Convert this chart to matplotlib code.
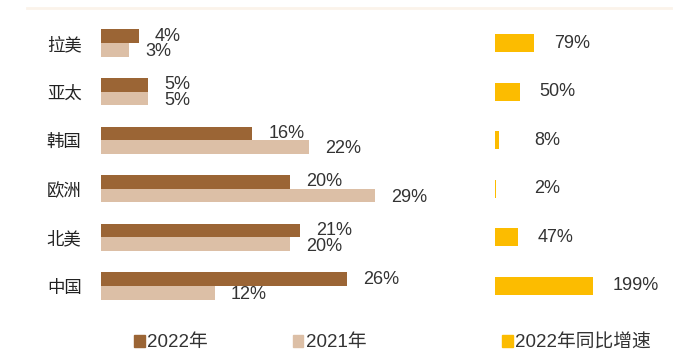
import matplotlib.pyplot as plt
from matplotlib.patches import Patch

plt.rcParams['font.family'] = ['Liberation Sans', 'Noto Sans CJK SC', 'DejaVu Sans']

regions = ['拉美', '亚太', '韩国', '欧洲', '北美', '中国']
share_2022 = [4, 5, 16, 20, 21, 26]
share_2021 = [3, 5, 22, 29, 20, 12]
growth_2022 = [79, 50, 8, 2, 47, 199]

c_2022 = '#9b6535'
c_2021 = '#dcbfa6'
c_growth = '#fcbc00'
txt = '#333333'

W, H = 685, 354
fig = plt.figure(figsize=(W / 100, H / 100), dpi=100)

# both panels share the same row layout: 48.6 px per region, first row centred at y=43
row_px = 48.6
top_px = 43 - row_px / 2
ax_h = row_px * len(regions)
ax_bottom = (H - top_px - ax_h) / H

# left panel: market share, 9.46 px per percent
ax = fig.add_axes([101 / W, ax_bottom, 331 / W, ax_h / H])
ax.set_xlim(0, 331 / 9.46)
ax.set_ylim(len(regions) - 0.5, -0.5)
bh = 0.28
ys = list(range(len(regions)))
ax.barh([y - bh / 2 for y in ys], share_2022, height=bh, color=c_2022)
ax.barh([y + bh / 2 for y in ys], share_2021, height=bh, color=c_2021)
off = 16 / 9.46
for y, a, b in zip(ys, share_2022, share_2021):
    ax.text(a + off, y - bh / 2, f'{a}%', va='center', ha='left', fontsize=13, color=txt)
    ax.text(b + off, y + bh / 2 + 0.04, f'{b}%', va='center', ha='left', fontsize=13, color=txt)
ax.set_yticks(ys)
ax.set_yticklabels(regions, fontsize=12.5, color='#222222', family=['Noto Sans CJK SC'])
ax.tick_params(axis='y', length=0, pad=14)
ax.set_xticks([])
for s in ax.spines.values():
    s.set_visible(False)

# right panel: year-on-year growth, 0.49 px per percent
ax2 = fig.add_axes([495 / W, ax_bottom, 185 / W, ax_h / H])
ax2.set_xlim(0, 185 / 0.49)
ax2.set_ylim(len(regions) - 0.5, -0.5)
ax2.barh(ys, growth_2022, height=0.37, color=c_growth)
off2 = 20 / 0.49
for y, g in zip(ys, growth_2022):
    ax2.text(max(g, 40) + off2, y, f'{g}%', va='center', ha='left', fontsize=13, color=txt)
ax2.axis('off')

# faint header rule
fig.add_artist(plt.Line2D([0.04, 0.98], [1 - 8 / H, 1 - 8 / H], color='#fbf3ea', lw=2))

leg_kw = dict(frameon=False, fontsize=13.5, handlelength=0.55, handleheight=0.55,
              handletextpad=0.15, borderpad=0, labelcolor=txt)
fig.legend(handles=[Patch(color=c_2022, label='2022年'),
                    Patch(color=c_2021, label='2021年')],
           loc='center left', bbox_to_anchor=(125 / W, 11 / H), ncol=2,
           columnspacing=4.5, **leg_kw)
fig.legend(handles=[Patch(color=c_growth, label='2022年同比增速')],
           loc='center left', bbox_to_anchor=(493 / W, 11 / H), **leg_kw)

fig.savefig('out.png', dpi=100, facecolor='white')
